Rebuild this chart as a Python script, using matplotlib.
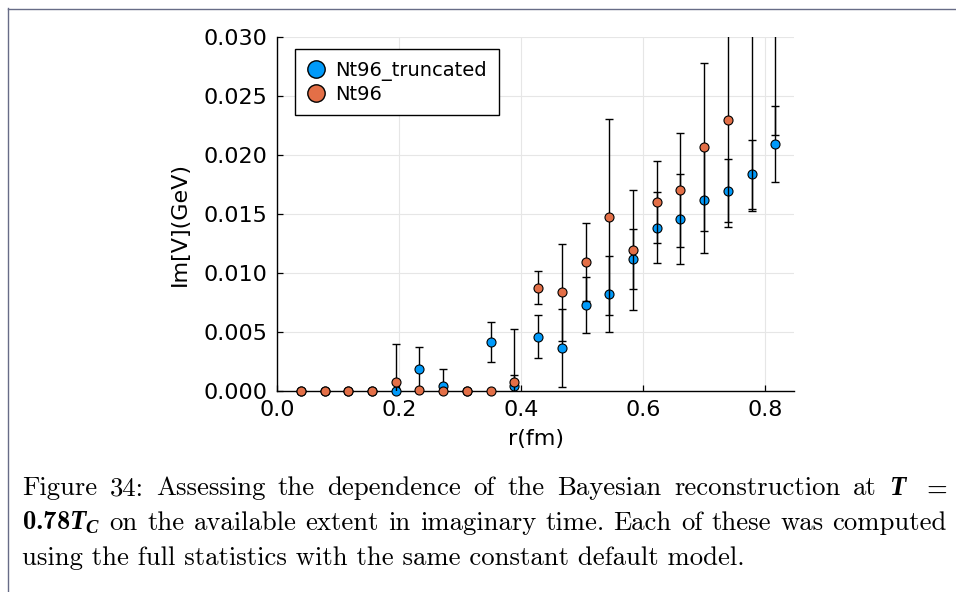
import numpy as np
import matplotlib
matplotlib.use("Agg")
import matplotlib.pyplot as plt
from matplotlib.lines import Line2D

# ---- data -------------------------------------------------------------
r_fm = [0.039, 0.078, 0.117, 0.156, 0.195, 0.233, 0.272, 0.311, 0.350, 0.389,
        0.428, 0.467, 0.506, 0.545, 0.584, 0.623, 0.661, 0.700, 0.739, 0.778,
        0.817]

im_v_truncated = [0.0, 0.0, 0.0, 0.0, 0.0, 0.00186, 0.00047, 0.0, 0.0042, 0.00047,
                  0.00462, 0.00369, 0.0073, 0.00823, 0.01119, 0.01384, 0.01458,
                  0.01618, 0.0170, 0.01836, 0.02095]
err_truncated = [0.0, 0.0, 0.0, 0.0, 0.0, 0.0019, 0.0014, 0.0, 0.0017, 0.0009,
                 0.0018, 0.0033, 0.0024, 0.0032, 0.00255, 0.0030, 0.0038,
                 0.00445, 0.0027, 0.0029, 0.0032]

im_v_nt96 = [0.0, 0.0, 0.0, 0.0, 0.00079, 0.0001, 0.0, 0.0, 0.0, 0.00079,
             0.00877, 0.00838, 0.01094, 0.01477, 0.01198, 0.01604, 0.01706,
             0.02067, 0.02295, 0.0325, 0.0340]
err_nt96 = [0.0, 0.0, 0.0, 0.0, 0.0032, 0.0, 0.0, 0.0, 0.0, 0.0045,
            0.0014, 0.0041, 0.0033, 0.0083, 0.0051, 0.0035, 0.0048,
            0.0071, 0.0090, 0.0172, 0.0123]

series_labels = ["Nt96_truncated", "Nt96"]
series_colors = ["#009AFA", "#E36F47"]

x_ticks = [0.0, 0.2, 0.4, 0.6, 0.8]
x_tick_labels = ["0.0", "0.2", "0.4", "0.6", "0.8"]
y_ticks = [0.000, 0.005, 0.010, 0.015, 0.020, 0.025, 0.030]
y_tick_labels = ["0.000", "0.005", "0.010", "0.015", "0.020", "0.025", "0.030"]
x_limits = (0.0, 0.8475)
y_limits = (0.0, 0.030)

caption_line1 = ["Figure", "34:", "Assessing", "the", "dependence", "of", "the",
                 "Bayesian", "reconstruction", "at", r"$\mathbfit{T}$", r"$\mathbf{=}$"]
caption_line2 = [r"$\mathbf{0.78}\mathbfit{T}_{\mathbfit{C}}$", "on", "the", "available",
                 "extent", "in", "imaginary", "time.", "Each", "of", "these", "was",
                 "computed"]
caption_line3 = "using the full statistics with the same constant default model."

# ---- figure -----------------------------------------------------------
plt.rcParams["mathtext.fontset"] = "custom"
plt.rcParams["mathtext.rm"] = "cmr10"
plt.rcParams["mathtext.bf"] = "cmb10"
plt.rcParams["mathtext.bfit"] = "Liberation Serif:italic:bold"

W, H = 956, 592
fig = plt.figure(figsize=(W / 100, H / 100), dpi=100)
fig.patch.set_facecolor("white")

ax_left, ax_right, ax_top, ax_bottom = 277, 794, 37, 391.3
ax = fig.add_axes([ax_left / W, 1 - ax_bottom / H,
                   (ax_right - ax_left) / W, (ax_bottom - ax_top) / H])

datasets = [(im_v_truncated, err_truncated), (im_v_nt96, err_nt96)]
handles = []
for k, ((vals, errs), label, color) in enumerate(zip(datasets, series_labels, series_colors)):
    vals = np.asarray(vals, dtype=float)
    errs = np.asarray(errs, dtype=float)
    ax.errorbar(r_fm, vals, yerr=errs, fmt="none", ecolor="black", elinewidth=1.0,
                capsize=3.0, capthick=1.0, zorder=3 + 2 * k)
    shown = np.where(vals <= y_limits[1], vals, np.nan)
    ax.plot(r_fm, shown, linestyle="none", marker="o", markersize=6.5,
            markerfacecolor=color, markeredgecolor="black", markeredgewidth=0.8,
            clip_on=False, zorder=4 + 2 * k)
    handles.append(Line2D([], [], linestyle="none", marker="o", markersize=12.5,
                          markerfacecolor=color, markeredgecolor="black",
                          markeredgewidth=1.0, label=label))

ax.set_xlim(*x_limits)
ax.set_ylim(*y_limits)
ax.set_xticks(x_ticks)
ax.set_xticklabels(x_tick_labels)
ax.set_yticks(y_ticks)
ax.set_yticklabels(y_tick_labels)
ax.tick_params(direction="in", length=4, width=0.9, color="black",
               labelsize=16, labelcolor="black")
ax.tick_params(axis="x", pad=6)
ax.tick_params(axis="y", pad=7)

ax.grid(True, color="#e6e6e6", linewidth=0.8)
ax.set_axisbelow(True)
for side in ("top", "right"):
    ax.spines[side].set_visible(False)
for side in ("left", "bottom"):
    ax.spines[side].set_linewidth(1.0)
    ax.spines[side].set_color("black")

ax.set_xlabel("r(fm)", fontsize=16)
ax.set_ylabel("Im[V](GeV)", fontsize=16)
ax.xaxis.set_label_coords(0.5, -(439 - ax_bottom) / (ax_bottom - ax_top), transform=ax.transAxes)
ax.xaxis.label.set_va("center")
ax.yaxis.set_label_coords(-(ax_left - 180) / (ax_right - ax_left),
                          (ax_bottom - 224) / (ax_bottom - ax_top))
ax.yaxis.label.set_va("center")

leg = ax.legend(handles=handles, loc="upper left",
                bbox_to_anchor=(294.5 / W, 1 - 49.4 / H), bbox_transform=fig.transFigure,
                borderaxespad=0, fontsize=14, frameon=True, fancybox=False,
                framealpha=1, edgecolor="black", borderpad=0.6, labelspacing=0.18,
                handlelength=1.0, handletextpad=0.5)
leg.get_frame().set_linewidth(1.0)

# ---- page frame ---------------------------------------------------------
frame_color = "#676c87"
fig.add_artist(Line2D([7.5 / W, 7.5 / W], [0, 1 - 8 / H], transform=fig.transFigure,
                      color=frame_color, linewidth=1.0))
fig.add_artist(Line2D([7.5 / W, 1], [1 - 8.5 / H, 1 - 8.5 / H], transform=fig.transFigure,
                      color=frame_color, linewidth=1.0))

# ---- caption (justified) ------------------------------------------------
renderer = fig.canvas.get_renderer()
cap_left, cap_right = 22, 947
base1, base2, base3 = 495, 530, 565

probe = fig.text(0, 0, caption_line3, fontfamily="cmr10", fontsize=10)
w10 = probe.get_window_extent(renderer).width
probe.remove()
cap_size = 10 * (744 - cap_left) / w10


def justified(words, baseline):
    items = [fig.text(0, 1 - baseline / H, w, fontfamily="cmr10", fontsize=cap_size,
                      ha="left", va="baseline", color="black") for w in words]
    widths = [t.get_window_extent(renderer).width for t in items]
    gap = (cap_right - cap_left - sum(widths)) / (len(items) - 1)
    x = cap_left
    for t, w in zip(items, widths):
        t.set_x(x / W)
        x += w + gap


justified(caption_line1, base1)
justified(caption_line2, base2)
fig.text(cap_left / W, 1 - base3 / H, caption_line3, fontfamily="cmr10", fontsize=cap_size,
         ha="left", va="baseline", color="black")

fig.savefig("out.png", dpi=100, facecolor="white")
